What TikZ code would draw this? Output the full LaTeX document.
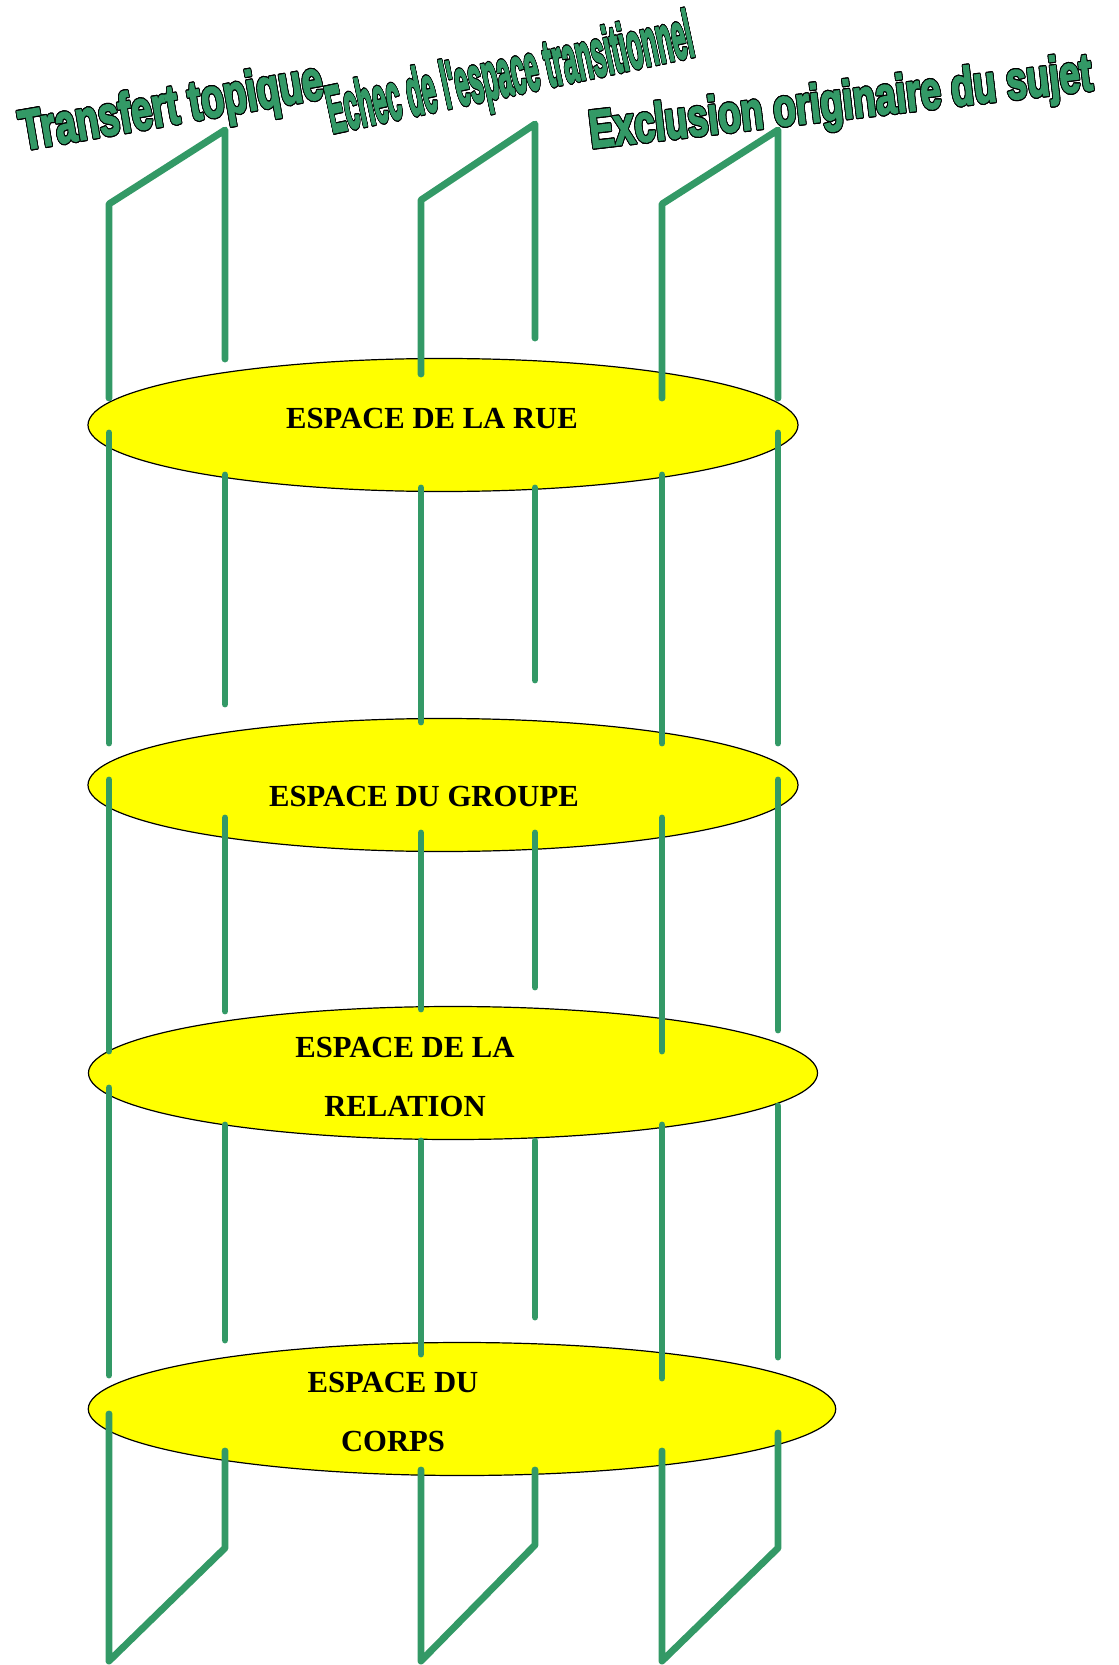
\documentclass[tikz,border=0pt]{standalone}
\usepackage{fontspec}
\setmainfont{Liberation Serif}
\newfontfamily\wordartfont[FakeBold=3]{Liberation Sans}
\usepackage{contour}
\usetikzlibrary{shapes.geometric}
\definecolor{cgreen}{HTML}{339966}
\definecolor{cyellow}{HTML}{FFFF00}
\contourlength{0.9pt}

\begin{document}
\begin{tikzpicture}[x=0.75pt, y=-0.75pt]
    \tikzset{
        level/.style={ellipse, draw, line width=0.9pt, fill=cyellow, inner sep=0pt, minimum height=99.75pt},
        label/.style={font=\bfseries\fontsize{23}{44.6}\selectfont, align=center, inner sep=0pt},
        wordart/.style={text=cgreen, inner sep=0pt, anchor=base west},
        pillar/.style={draw=cgreen, line width=5.2pt, line cap=round, line join=round}
    }
    \useasboundingbox (0,0) rectangle (1119,1665);

    \node[level, minimum width=532.5pt] (rue) at (443,425) {};
    \node[level, minimum width=532.5pt] (groupe) at (443,785) {};
    \node[level, minimum width=546.8pt] (relation) at (453,1073) {};
    \node[level, minimum width=560.6pt] (corps) at (462,1409) {};

    \node[label] (rue_txt) at (432,418) {ESPACE DE LA RUE};
    \node[label] (groupe_txt) at (424,796) {ESPACE DU GROUPE};
    \node[label] (relation_txt) at (405,1077) {ESPACE DE LA\\RELATION};
    \node[label] (corps_txt) at (393,1412) {ESPACE DU\\CORPS};

    \node[wordart, rotate=9.8, xscale=0.67, font=\wordartfont\bfseries\fontsize{42}{46}\selectfont] (transfert) at (23,150) {\contour{black}{Transfert topique}};
    \node[wordart, rotate=12, xscale=0.376, font=\wordartfont\bfseries\fontsize{50}{55}\selectfont] (echec) at (332,133) {\contour{black}{Echec de l'espace transitionnel}};
    \node[wordart, rotate=6.6, xscale=0.694, font=\wordartfont\bfseries\fontsize{40}{44}\selectfont] (exclusion) at (591,148) {\contour{black}{Exclusion originaire du sujet}};

    % top frames
    \draw[pillar] (109,398) -- (109,204) -- (225,130) -- (225,359);
    \draw[pillar] (421,374) -- (421,200) -- (535,124) -- (535,338);
    \draw[pillar] (662,398) -- (662,204) -- (778,130) -- (778,398);

    % rue -> groupe
    \draw[pillar] (109,433) -- (109,743);
    \draw[pillar] (225,475) -- (225,704);
    \draw[pillar] (421,488) -- (421,722);
    \draw[pillar] (535,488) -- (535,680);
    \draw[pillar] (662,475) -- (662,743);
    \draw[pillar] (778,433) -- (778,743);

    % groupe -> relation
    \draw[pillar] (109,780) -- (109,1051);
    \draw[pillar] (225,818) -- (225,1011);
    \draw[pillar] (421,833) -- (421,1009);
    \draw[pillar] (535,833) -- (535,987);
    \draw[pillar] (662,818) -- (662,1051);
    \draw[pillar] (778,780) -- (778,1030);

    % relation -> corps
    \draw[pillar] (109,1088) -- (109,1375);
    \draw[pillar] (225,1125) -- (225,1340);
    \draw[pillar] (421,1141) -- (421,1354);
    \draw[pillar] (535,1141) -- (535,1317);
    \draw[pillar] (662,1125) -- (662,1378);
    \draw[pillar] (778,1106) -- (778,1357);

    % bottom frames
    \draw[pillar] (109,1414) -- (109,1661) -- (225,1548) -- (225,1451);
    \draw[pillar] (421,1470) -- (421,1661) -- (535,1545) -- (535,1470);
    \draw[pillar] (662,1451) -- (662,1661) -- (778,1548) -- (778,1433);
\end{tikzpicture}
\end{document}
